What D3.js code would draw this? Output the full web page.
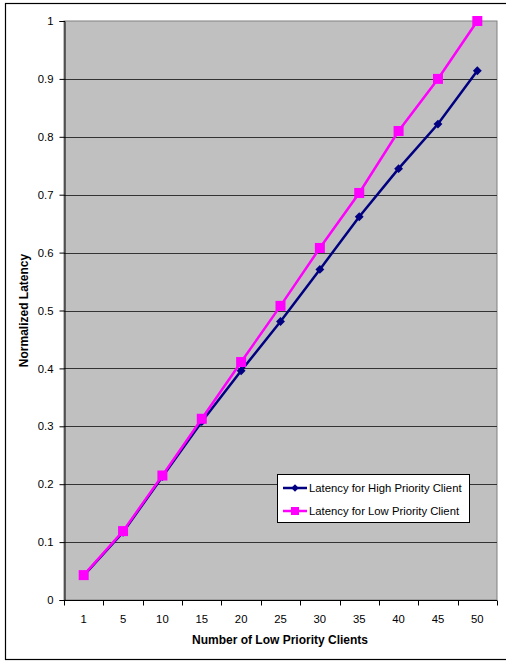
<!DOCTYPE html>
<html>
<head>
<meta charset="utf-8">
<script src="https://cdn.jsdelivr.net/npm/d3@7"></script>
<style>
  html, body { margin: 0; padding: 0; background: #fff; }
  svg { display: block; font-family: "Liberation Sans", Arial, sans-serif; }
</style>
</head>
<body>
<svg id="chart" width="506" height="661"></svg>
<script>
const categories = ["1", "5", "10", "15", "20", "25", "30", "35", "40", "45", "50"];
const highPriority = [0.042, 0.117, 0.213, 0.308, 0.396, 0.481, 0.571, 0.662, 0.745, 0.822, 0.914];
const lowPriority = [0.043, 0.119, 0.215, 0.313, 0.411, 0.508, 0.608, 0.703, 0.810, 0.900, 1.000];
const yTicks = [0, 0.1, 0.2, 0.3, 0.4, 0.5, 0.6, 0.7, 0.8, 0.9, 1];
const seriesNames = ["Latency for High Priority Client", "Latency for Low Priority Client"];
const seriesColors = ["#000080", "#ff00ff"];

const svg = d3.select("#chart");

// outer chart border (right side off-canvas)
svg.append("rect").attr("x", 5.5).attr("y", 3.5).attr("width", 520).attr("height", 656)
  .attr("fill", "#fff").attr("stroke", "#000").attr("stroke-width", 1.2);

const pLeft = 64, pRight = 497, pTop = 21, pBottom = 600;
const x = d3.scaleBand().domain(categories).range([pLeft, pRight]);
const y = d3.scaleLinear().domain([0, 1]).range([pBottom, pTop]);

// plot area
svg.append("rect").attr("x", pLeft).attr("y", pTop).attr("width", pRight - pLeft).attr("height", pBottom - pTop)
  .attr("fill", "#c0c0c0").attr("stroke", "#808080").attr("stroke-width", 1);

// gridlines
svg.append("g").selectAll("line").data(yTicks.filter(d => d > 0 && d < 1)).join("line")
  .attr("x1", pLeft).attr("x2", pRight)
  .attr("y1", d => Math.round(y(d)) + 0.5).attr("y2", d => Math.round(y(d)) + 0.5)
  .attr("stroke", "#333").attr("stroke-width", 1);

// y axis
const yAxis = svg.append("g").attr("transform", `translate(${pLeft + 0.5},0)`)
  .call(d3.axisLeft(y).tickValues(yTicks).tickFormat(d3.format("")).tickSize(5).tickPadding(6));
yAxis.select(".domain").attr("stroke", "#000");
yAxis.selectAll("line").attr("stroke", "#000");
yAxis.selectAll("text").attr("font-size", 11.3).attr("fill", "#000")
  .attr("font-family", "Liberation Sans, Arial, sans-serif");

// x axis with ticks at category boundaries
const xAxisG = svg.append("g").attr("transform", `translate(0,${pBottom + 0.5})`);
xAxisG.append("line").attr("x1", pLeft).attr("x2", pRight).attr("stroke", "#000");
const boundaries = d3.range(categories.length + 1).map(i => pLeft + i * x.step());
xAxisG.selectAll(".tk").data(boundaries).join("line").attr("class", "tk")
  .attr("x1", d => Math.round(d) + 0.5).attr("x2", d => Math.round(d) + 0.5)
  .attr("y1", 0).attr("y2", 5).attr("stroke", "#000");
xAxisG.selectAll(".lbl").data(categories).join("text").attr("class", "lbl")
  .attr("x", d => x(d) + x.bandwidth() / 2).attr("y", 22)
  .attr("text-anchor", "middle").attr("font-size", 11.3).attr("fill", "#000").text(d => d);

// axis titles
svg.append("text").attr("x", 280).attr("y", 643.5)
  .attr("text-anchor", "middle").attr("font-size", 12).attr("font-weight", "bold")
  .text("Number of Low Priority Clients");
svg.append("text").attr("transform", `translate(28,${(pTop + pBottom) / 2}) rotate(-90)`)
  .attr("text-anchor", "middle").attr("font-size", 12).attr("font-weight", "bold")
  .text("Normalized Latency");

const cx = (d, i) => x(categories[i]) + x.bandwidth() / 2;
const line = d3.line().x((d, i) => cx(d, i)).y(d => y(d));

// high priority series
svg.append("path").datum(highPriority).attr("d", line)
  .attr("fill", "none").attr("stroke", seriesColors[0]).attr("stroke-width", 2.5);
svg.append("g").selectAll("path").data(highPriority).join("path")
  .attr("transform", (d, i) => `translate(${cx(d, i)},${y(d)})`)
  .attr("d", d3.symbol(d3.symbolDiamond2, 50))
  .attr("fill", seriesColors[0]);

// low priority series
svg.append("path").datum(lowPriority).attr("d", line)
  .attr("fill", "none").attr("stroke", seriesColors[1]).attr("stroke-width", 2.5);
svg.append("g").selectAll("rect").data(lowPriority).join("rect")
  .attr("x", (d, i) => cx(d, i) - 5).attr("y", d => y(d) - 5)
  .attr("width", 10).attr("height", 10)
  .attr("fill", seriesColors[1]);

// legend
const lg = svg.append("g");
lg.append("rect").attr("x", 277.5).attr("y", 474.5).attr("width", 192).attr("height", 48)
  .attr("fill", "#fff").attr("stroke", "#000").attr("stroke-width", 1);
const rows = [488, 511];
seriesNames.forEach((name, i) => {
  lg.append("line").attr("x1", 283).attr("x2", 307).attr("y1", rows[i]).attr("y2", rows[i])
    .attr("stroke", seriesColors[i]).attr("stroke-width", 2.5);
  if (i === 0) {
    lg.append("path").attr("transform", `translate(295,${rows[i]})`)
      .attr("d", d3.symbol(d3.symbolDiamond2, 36)).attr("fill", seriesColors[i]);
  } else {
    lg.append("rect").attr("x", 291).attr("y", rows[i] - 4).attr("width", 8).attr("height", 8)
      .attr("fill", seriesColors[i]);
  }
  lg.append("text").attr("x", 309).attr("y", rows[i]).attr("dy", "0.35em")
    .attr("font-size", 11.3).attr("fill", "#000").text(name);
});
</script>
</body>
</html>
